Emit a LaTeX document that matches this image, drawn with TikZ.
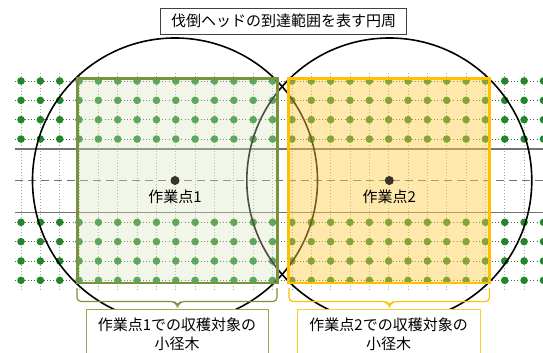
\documentclass[tikz,border=0pt]{standalone}
\usepackage{fontspec}
\newfontfamily\jp{Noto Sans CJK JP}
\begin{document}
\begin{tikzpicture}[x=1pt,y=-1pt,
  vgrid/.style={draw=black!35,line width=0.8pt,dash pattern=on 1pt off 2pt},
  hgrid/.style={draw=black!65,line width=0.9pt,dash pattern=on 1pt off 2.2pt},
  tree/.style={fill=treegreen,draw=none},
  guide/.style={draw=black!55,line width=1.2pt},
  reach/.style={draw=black,line width=1.6pt},
  workpt/.style={circle,fill=black!80!olive,inner sep=0pt,minimum size=9pt},
  lbl/.style={font=\jp\fontsize{15}{18}\selectfont,inner sep=0pt},
  brace/.style={line width=1.2pt,rounded corners=4pt}
]
\definecolor{treegreen}{HTML}{23862A}
\definecolor{olivegreen}{HTML}{77933C}
\definecolor{lightgreen}{HTML}{D7E4BD}
\definecolor{gold}{HTML}{FFC000}
\definecolor{lightgold}{HTML}{FFCC44}
\definecolor{boxgreen}{HTML}{8DB04C}
\useasboundingbox (0,0) rectangle (543,353);
\clip (0,0) rectangle (543,353);
% vertical dotted grid lines
\foreach \i in {0,...,27}{
  \draw[vgrid] (21+19.35*\i,73) -- (21+19.35*\i,291);
}
% horizontal dotted lines through tree rows
\foreach \y in {81,100.35,119.7,139.05,222.3,241.65,261,280.35}{
  \draw[hgrid] (15,\y) -- (543,\y);
}
% trees
\foreach \i in {0,...,27}{
  \foreach \y in {81,100.35,119.7,139.05,222.3,241.65,261,280.35}{
    \fill[tree] (21+19.35*\i,\y) circle (3.8pt);
  }
}
% strip lines
\draw[guide] (15,149) -- (543,149);
\draw[guide] (15,212.7) -- (543,212.7);
\draw[guide,dash pattern=on 8pt off 5pt] (15,180.7) -- (543,180.7);
% reach circles
\coordinate (p1) at (175,180.5);
\coordinate (p2) at (389.3,180.5);
\draw[reach] (p1) circle (142.5pt);
\draw[reach] (p2) circle (142.5pt);
% harvest rectangles
\fill[lightgreen,fill opacity=0.35] (77.5,78.8) rectangle (277.3,283);
\draw[draw=olivegreen,line width=2.8pt] (77.5,78.8) rectangle (277.3,283);
\fill[lightgold,fill opacity=0.45] (288.7,78.8) rectangle (489.7,283);
\draw[draw=gold,line width=2.8pt] (288.7,78.8) rectangle (489.7,283);
% work points
\node[workpt] (w1) at (p1) {};
\node[workpt] (w2) at (p2) {};
\node[lbl] (t1) at (175,197) {作業点1};
\node[lbl] (t2) at (389.3,197) {作業点2};
% title
\node[lbl,draw=black!75,line width=0.9pt,fill=white,minimum width=246pt,minimum height=26pt] (title) at (283.7,21) {伐倒ヘッドの到達範囲を表す円周};
% braces
\draw[brace,draw=olivegreen] (77,288) |- (175,301.5) -- (177.5,306.5) -- (180,301.5) -| (277,288);
\draw[brace,draw=gold] (289,288) |- (387,301.5) -- (389.5,306.5) -- (392,301.5) -| (489.5,288);
% label boxes
\draw[draw=boxgreen,line width=1pt,fill=white] (86,309.3) rectangle (268,370);
\draw[draw=gold!80,line width=1pt,fill=white] (297.3,309.3) rectangle (480,370);
\node[lbl] (b1a) at (177,325) {作業点1での収穫対象の};
\node[lbl] (b1b) at (177,343.5) {小径木};
\node[lbl] (b2a) at (388.6,325) {作業点2での収穫対象の};
\node[lbl] (b2b) at (388.6,343.5) {小径木};
\end{tikzpicture}
\end{document}
